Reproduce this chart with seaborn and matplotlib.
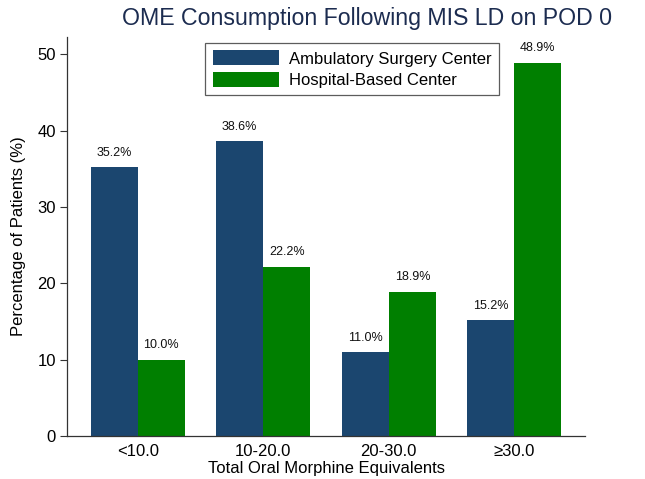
import pandas as pd
import seaborn as sns
import matplotlib.pyplot as plt

# values
categories = ["<10.0", "10-20.0", "20-30.0", "\u226530.0"]
centers = ["Ambulatory Surgery Center", "Hospital-Based Center"]
asc_pct = [35.2, 38.6, 11.0, 15.2]
hosp_pct = [10.0, 22.2, 18.9, 48.9]
yticks = [0, 10, 20, 30, 40, 50]

df = pd.DataFrame({
    "OME": categories * 2,
    "Center": [centers[0]] * 4 + [centers[1]] * 4,
    "pct": asc_pct + hosp_pct,
})

sns.set_theme(style="white")
plt.rcParams["font.family"] = ["Liberation Sans", "DejaVu Sans"]
plt.rcParams["text.color"] = "black"
plt.rcParams["axes.labelcolor"] = "black"
plt.rcParams["xtick.color"] = "black"
plt.rcParams["ytick.color"] = "black"

fig = plt.figure(figsize=(6.45, 4.79), dpi=100)
ax = fig.add_axes([0.104, 0.09, 0.803, 0.833])

sns.barplot(
    data=df, x="OME", y="pct", hue="Center", order=categories,
    hue_order=centers, palette=["#1b466f", "#007f00"], saturation=1,
    width=0.75, gap=0, linewidth=0, ax=ax,
)

# percent labels above bars
for cont in ax.containers:
    ax.bar_label(cont, fmt="%.1f%%", padding=6, fontsize=9, color="#111111")

ax.set_xlim(-0.563, 3.563)
ax.set_ylim(0, 52.3)
ax.set_yticks(yticks)
ax.tick_params(axis="y", direction="out", length=5, width=0.8, color="#333333",
               labelsize=12, left=True, pad=3)
ax.tick_params(axis="x", length=0, labelsize=12, pad=6)
ax.set_ylabel("Percentage of Patients (%)", fontsize=12, labelpad=8)
ax.set_xlabel("Total Oral Morphine Equivalents", fontsize=12, labelpad=1)

sns.despine(ax=ax, top=True, right=True)
for s in ["left", "bottom"]:
    ax.spines[s].set_color("#333333")
    ax.spines[s].set_linewidth(0.9)

handles, labels = ax.get_legend_handles_labels()
leg = ax.legend(
    handles, labels, loc="upper left", bbox_to_anchor=(205 / 645, 1 - 43 / 479),
    bbox_transform=fig.transFigure, fontsize=12, frameon=True, fancybox=False,
    handlelength=4.0, handleheight=1.0, handletextpad=0.6, borderpad=0.45,
    labelspacing=0.3, borderaxespad=0,
)
leg.get_frame().set_edgecolor("#333333")
leg.get_frame().set_linewidth(0.9)

fig.text(367 / 645, 1 - 18 / 479, "OME Consumption Following MIS LD on POD 0",
         ha="center", va="center", fontsize=16.7, color="#1c2c50")

fig.savefig("out.png", dpi=100, facecolor="white")
